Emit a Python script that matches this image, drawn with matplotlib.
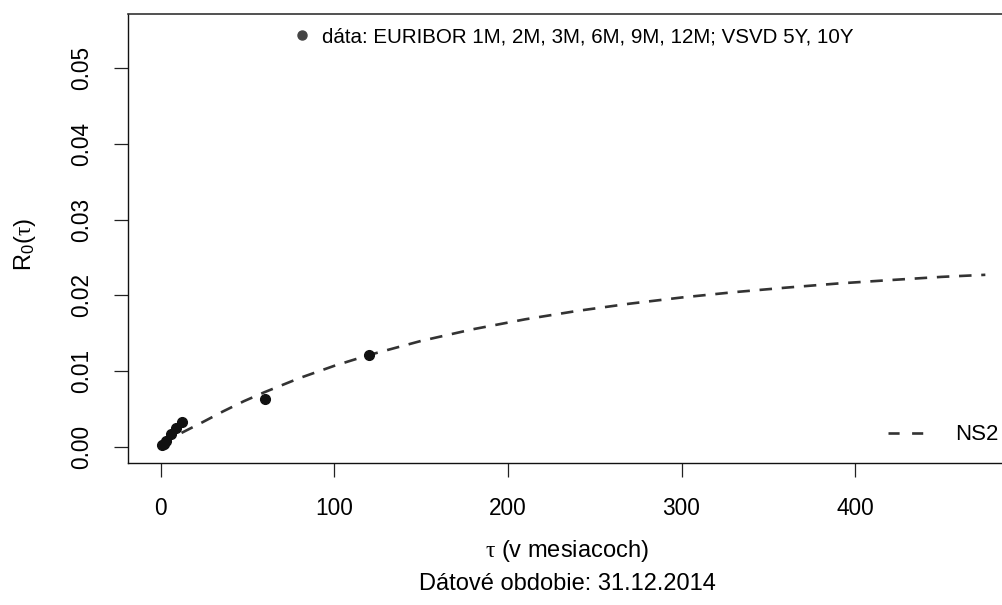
import matplotlib
matplotlib.use("Agg")
import matplotlib.pyplot as plt
from matplotlib.lines import Line2D

plt.rcParams['font.family'] = ['Liberation Sans', 'DejaVu Sans']
plt.rcParams['mathtext.fontset'] = 'custom'
plt.rcParams['mathtext.rm'] = 'Liberation Serif'
plt.rcParams['mathtext.it'] = 'Liberation Serif:italic'
plt.rcParams['lines.scale_dashes'] = False

# market data: EURIBOR 1M..12M, VSVD 5Y, 10Y (maturity in months, yield)
tau_data = [1, 2, 3, 6, 9, 12, 60, 120]
r_data = [0.00018, 0.00036, 0.00078, 0.00171, 0.00250, 0.00325, 0.0063, 0.0121]

# fitted NS2 curve
tau_ns2 = [12, 24, 36, 48, 60, 80, 100, 120, 150, 180, 210, 240, 270, 300,
           330, 360, 390, 420, 450, 475]
r_ns2 = [0.0018, 0.0032, 0.00465, 0.0060, 0.0072, 0.00905, 0.01067, 0.0121,
         0.01396, 0.01551, 0.01682, 0.01793, 0.01888, 0.0197, 0.0204, 0.0210,
         0.02155, 0.0220, 0.02243, 0.0227]

xticks = [0, 100, 200, 300, 400]
yticks = [0.00, 0.01, 0.02, 0.03, 0.04, 0.05]

W, H = 1003, 605
fig = plt.figure(figsize=(W / 100, H / 100), dpi=100)
ax = fig.add_axes([127.7 / W, 1 - 462.7 / H, (1006 - 127.7) / W, (462.7 - 14) / H])

ax.plot(tau_ns2, r_ns2, color='#333333', lw=1.9, dashes=(9, 7),
        dash_capstyle='butt')
ax.plot(tau_data, r_data, 'o', color='#111111', ms=7, mec='#111111')

ax.set_xlim(-19.0, 486.9)
ax.set_ylim(-0.00214, 0.05718)
ax.set_xticks(xticks)
ax.set_xticklabels([str(v) for v in xticks])
ax.set_yticks(yticks)
ax.set_yticklabels([f'{v:.2f}' for v in yticks], rotation=90, va='center')
ax.tick_params(labelsize=16.3, length=10, width=0.9, color='#222222', pad=15)

for side in ['top', 'right']:
    ax.spines[side].set_color('#333333')
    ax.spines[side].set_linewidth(1.2)
for side in ['left', 'bottom']:
    ax.spines[side].set_color('#111111')
    ax.spines[side].set_linewidth(1.0)

fig.text(25 / W, 1 - 245 / H, r'$\mathregular{R_0(}\mathrm{\tau}\mathregular{)}$',
         rotation=90, ha='center', va='center', fontsize=17)
fig.text(567 / W, 1 - 551 / H, r'$\mathrm{\tau}$ (v mesiacoch)',
         ha='center', va='center', fontsize=17)
fig.text(567 / W, 1 - 584 / H, 'Dátové obdobie: 31.12.2014',
         ha='center', va='center', fontsize=17)

pt_handle = Line2D([], [], ls='none', marker='o', color='#444444', ms=6.5)
fig.legend([pt_handle], ['dáta: EURIBOR 1M, 2M, 3M, 6M, 9M, 12M; VSVD 5Y, 10Y'],
           loc='center left', bbox_to_anchor=(295.8 / W, 1 - 37 / H),
           frameon=False, fontsize=14.8, handlelength=0.6, handletextpad=0.67,
           borderpad=0, borderaxespad=0)

ln_handle = Line2D([], [], color='#333333', lw=1.9, dashes=(8, 9),
                   dash_capstyle='butt')
fig.legend([ln_handle], ['NS2'], loc='center left',
           bbox_to_anchor=(888 / W, 1 - 435 / H), frameon=False, fontsize=16,
           handlelength=1.58, handletextpad=1.44, borderpad=0, borderaxespad=0)

fig.savefig('out.png', dpi=100)
